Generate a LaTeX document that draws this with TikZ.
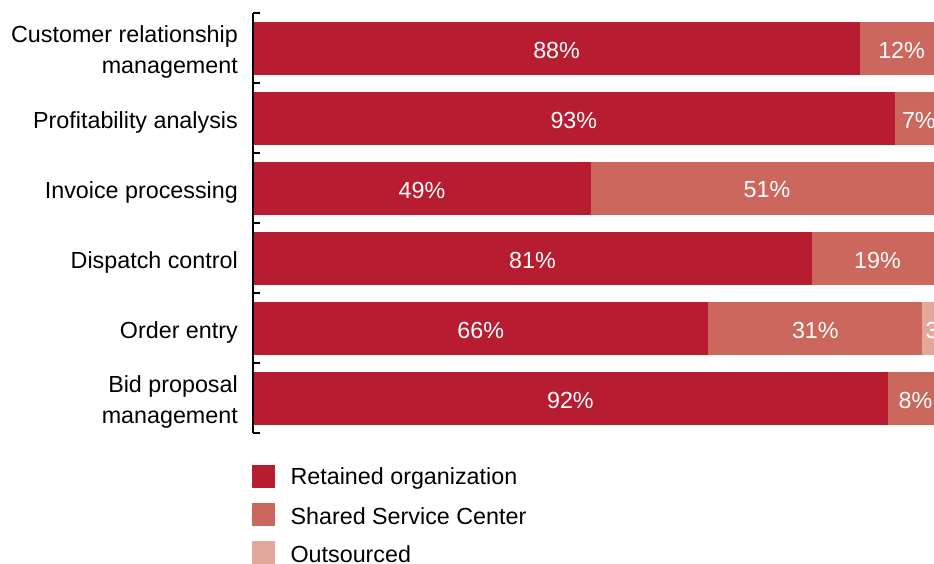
\documentclass[tikz,border=0pt]{standalone}
\usepackage{fontspec}
\setmainfont{Liberation Sans}
\usepackage{tikz}
\usetikzlibrary{positioning}
\definecolor{RetainedRed}{RGB}{183, 28, 48}
\definecolor{SharedRose}{RGB}{203, 103, 92}
\definecolor{OutsourcedPink}{RGB}{226, 168, 156}

\tikzset{
    barval/.style={text=white, inner sep=0pt, yshift=-1.5pt},
    rowlabel/.style={anchor=east, align=right, inner sep=0pt, yshift=-3.5pt},
    keybox/.style={minimum size=23pt, inner sep=0pt, anchor=north west},
    keytext/.style={inner sep=0pt, anchor=west, yshift=-1.5pt},
}

\begin{document}
\begin{tikzpicture}[x=1pt, y=-1pt, font=\fontsize{23.3}{30.5}\selectfont]
    \useasboundingbox (0,0) rectangle (934,564);
    \clip (0,0) rectangle (934,564);

    % Barras apiladas (6.9 por ciento)
    \foreach \lab/\r/\s/\o [count=\i from 0] in {
        {Customer relationship\\management}/88/12/0,
        {Profitability analysis}/93/7/0,
        {Invoice processing}/49/51/0,
        {Dispatch control}/81/19/0,
        {Order entry}/66/31/3,
        {Bid proposal\\management}/92/8/0}{
        \pgfmathsetmacro{\yc}{48.5+70*\i}
        \pgfmathsetmacro{\xs}{253+6.9*\r}
        \pgfmathsetmacro{\xo}{253+6.9*(\r+\s)}
        \fill[RetainedRed] (253,\yc-26.5) rectangle (\xs,\yc+26.5);
        \fill[SharedRose] (\xs,\yc-26.5) rectangle (\xo,\yc+26.5);
        \node[barval] (ret\i) at ({253+6.9*\r/2},\yc) {\r\%};
        \node[barval] (sha\i) at ({\xs+6.9*\s/2},\yc) {\s\%};
        \ifnum\o>0
            \fill[OutsourcedPink] (\xo,\yc-26.5) rectangle ++({6.9*\o},53);
            \node[barval, anchor=west] (out\i) at (\xo+3,\yc) {\o\%};
        \fi
        \node[rowlabel] (lab\i) at (238,\yc) {\lab};
    }

    % Eje
    \draw[line width=1.6pt] (253,13) -- (253,433);
    \foreach \t in {0,...,6}
        \draw[line width=1.6pt] (253,13+70*\t) -- ++(7,0);

    % Leyenda
    \node[keybox, fill=RetainedRed] (keyR) at (252,465) {};
    \node[keybox, fill=SharedRose] (keyS) at (252,503) {};
    \node[keybox, fill=OutsourcedPink] (keyO) at (252,541) {};
    \node[keytext, right=15pt of keyR] (txtR) {Retained organization};
    \node[keytext, right=15pt of keyS] (txtS) {Shared Service Center};
    \node[keytext, right=15pt of keyO] (txtO) {Outsourced};
\end{tikzpicture}
\end{document}
